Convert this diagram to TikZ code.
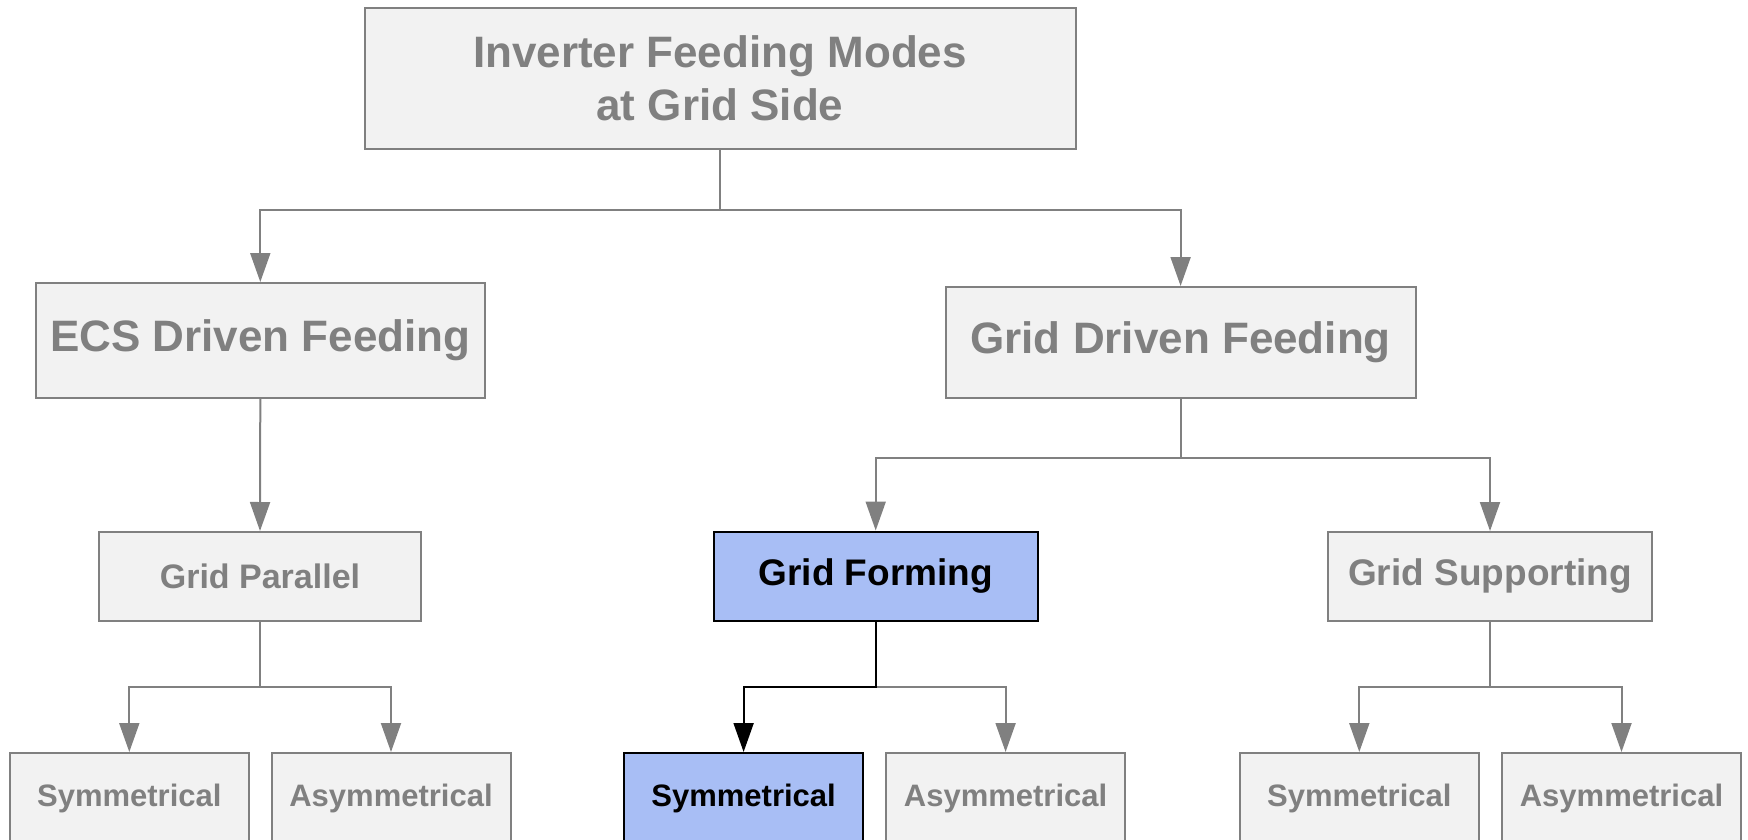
\documentclass[tikz,border=0pt]{standalone}
\usepackage{fontspec}
\setmainfont{Liberation Sans}
\usetikzlibrary{arrows.meta}
\definecolor{boxfill}{RGB}{242,242,242}
\definecolor{boxline}{RGB}{128,128,128}
\definecolor{pickfill}{RGB}{168,190,245}
\tikzset{
  mode/.style={draw=boxline,fill=boxfill,text=boxline,line width=2pt,inner sep=0pt,align=center},
  picked/.style={draw=black,fill=pickfill,text=black},
  sizeA/.style={font=\bfseries\fontsize{44}{53}\selectfont},
  sizeB/.style={font=\bfseries\fontsize{37}{44}\selectfont},
  sizeC/.style={font=\bfseries\fontsize{31}{37}\selectfont},
  leaf/.style={mode,sizeC,minimum width=239pt,minimum height=90pt},
  link/.style={draw=boxline,line width=2pt,-{Triangle[length=29pt,width=20pt]}}
}
\begin{document}
\begin{tikzpicture}[x=1pt,y=-1pt]
\useasboundingbox (0,0) rectangle (1748,840);
% root
\node[mode,sizeA,minimum width=711pt,minimum height=141pt] (top) at (720,78.6) {Inverter Feeding Modes\\at Grid Side};
% first level
\node[mode,sizeA,minimum width=449pt,minimum height=115pt] (ecs) at (260.3,340.5) {ECS Driven Feeding};
\node[mode,sizeA,minimum width=470pt,minimum height=111pt] (gdf) at (1180.6,342.5) {Grid Driven Feeding};
% second level
\node[mode,font=\bfseries\fontsize{34}{40}\selectfont,minimum width=322pt,minimum height=89pt] (gpar) at (260,576.5) {Grid Parallel};
\node[mode,picked,sizeB,minimum width=324pt,minimum height=89pt] (gform) at (875.7,576) {Grid Forming};
\node[mode,sizeB,minimum width=324pt,minimum height=89pt] (gsup) at (1490,576.5) {Grid Supporting};
% leaves
\node[leaf] (sym1) at (129.3,798) {Symmetrical};
\node[leaf] (asym1) at (391,798) {Asymmetrical};
\node[leaf,picked] (sym2) at (743.6,798) {Symmetrical};
\node[leaf] (asym2) at (1005.6,798) {Asymmetrical};
\node[leaf] (sym3) at (1359.3,798) {Symmetrical};
\node[leaf] (asym3) at (1621.5,798) {Asymmetrical};
% junctions
\coordinate (j0) at (top.south |- 0,210);
\coordinate (j1) at (gdf.south |- 0,458);
\coordinate (j2) at (gpar.south |- 0,687);
\coordinate (j3) at (gform.south |- 0,687);
\coordinate (j4) at (gsup.south |- 0,687);
% connectors
\draw[link] (top.south) -- (j0) -| (ecs.north);
\draw[link] (j0) -| (gdf.north);
\draw[link] (ecs.south) -- (gpar.north);
\draw[link] (gdf.south) -- (j1) -| (gform.north);
\draw[link] (j1) -| (gsup.north);
\draw[link] (gpar.south) -- (j2) -| (sym1.north);
\draw[link] (j2) -| (asym1.north);
\draw[link] (j3) -| (asym2.north);
\draw[link,draw=black] (gform.south) -- (j3) -| (sym2.north);
\draw[link] (gsup.south) -- (j4) -| (sym3.north);
\draw[link] (j4) -| (asym3.north);
\end{tikzpicture}
\end{document}
